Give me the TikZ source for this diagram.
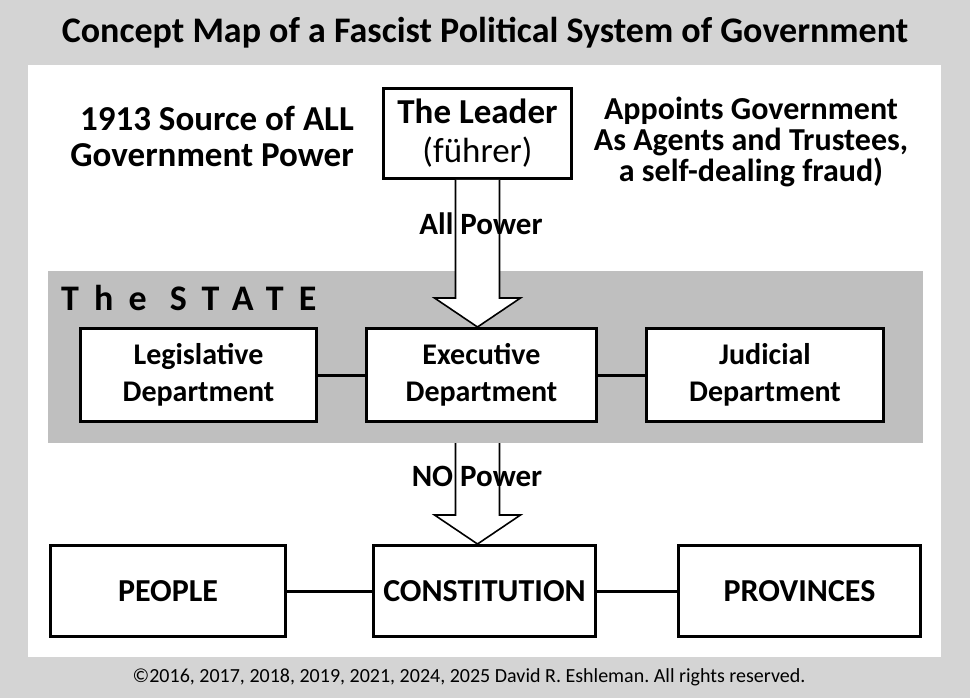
\documentclass[tikz,border=0pt]{standalone}
\usepackage{fontspec}
\setmainfont{Carlito}
\usetikzlibrary{calc}

\definecolor{outergray}{HTML}{D4D4D4}
\definecolor{bandgray}{HTML}{BFBFBF}

\tikzset{
  box/.style = {draw, line width=3pt, fill=white, align=center, inner sep=0pt},
  deptbox/.style = {box, minimum width=236pt, minimum height=93pt,
    font=\fontsize{30}{37}\selectfont\bfseries},
  basebox/.style = {box, minimum height=91pt,
    font=\fontsize{32}{36}\selectfont\bfseries},
  link/.style = {line width=3pt},
  powertext/.style = {inner sep=0pt, font=\fontsize{31}{36}\selectfont\bfseries},
}

% fat outlined arrow: top at the height of #1, tip at #2
\newcommand{\powerarrow}[2]{%
  \filldraw[fill=white, line width=1.6pt]
    let \p1 = (#1), \p2 = (#2) in
    (\x2-22pt,\y1) -- (\x2-22pt,\y2+29pt) -- (\x2-43pt,\y2+29pt) -- (\x2,\y2)
    -- (\x2+43pt,\y2+29pt) -- (\x2+22pt,\y2+29pt) -- (\x2+22pt,\y1);
}

\frenchspacing

\begin{document}
\begin{tikzpicture}[x=1pt, y=-1pt]
  \fill[outergray] (0,0) rectangle (970,698);
  \useasboundingbox (0,0) rectangle (970,698);
  \fill[white] (28,65) rectangle (941,657);

  \node[font=\fontsize{36}{40}\selectfont\bfseries] (title) at (485,33)
    {Concept Map of a Fascist Political System of Government};

  % the leader
  \node[box, minimum width=188pt, minimum height=90pt,
    font=\fontsize{35}{39}\selectfont] (leader) at (477.5,133.5)
    {\textbf{The Leader}\\(führer)};
  \node[anchor=east, align=right, inner sep=0pt,
    font=\fontsize{35}{36}\selectfont\bfseries] (source) at (354,136)
    {1913 Source of ALL\\Government Power};
  \node[align=center, inner sep=0pt,
    font=\fontsize{32}{31}\selectfont\bfseries] (appoints) at (751,142)
    {Appoints Government\\As Agents and Trustees,\\a self-dealing fraud)};

  % the state
  \node[fill=bandgray, minimum width=875pt, minimum height=172pt, inner sep=0pt]
    (state) at (485.5,357) {};
  \node[anchor=base west, inner sep=0pt,
    font=\fontsize{36}{40}\selectfont\bfseries\addfontfeature{LetterSpace=42}]
    (statename) at (61,310) {The STATE};

  \node[deptbox] (legis) at (198.5,375) {Legislative\\Department};
  \powerarrow{leader.south}{leader |- legis.north}
  \node[deptbox, minimum width=230pt] (exec) at (481.5,375) {Executive\\Department};
  \node[deptbox, minimum width=237pt] (judic) at (765,375) {Judicial\\Department};

  \draw[link] (legis) -- (exec);
  \draw[link] (exec) -- (judic);

  % below the state
  \node[basebox, minimum width=235pt] (people) at (168,591) {PEOPLE};
  \powerarrow{leader |- state.south}{leader |- people.north}
  \node[basebox, minimum width=222pt] (const) at (484.5,591) {CONSTITUTION};
  \node[basebox, minimum width=242pt] (prov) at (799.5,591) {PROVINCES};

  \draw[link] (people) -- (const);
  \draw[link] (const) -- (prov);

  \node[powertext] (allpower) at (481,224) {All Power};
  \node[powertext] (nopower) at (477,476) {NO Power};

  \node[font=\fontsize{20}{24}\selectfont] (copyright) at (469,677)
    {©2016, 2017, 2018, 2019, 2021, 2024, 2025 David R. Eshleman. All rights reserved.};
\end{tikzpicture}
\end{document}
